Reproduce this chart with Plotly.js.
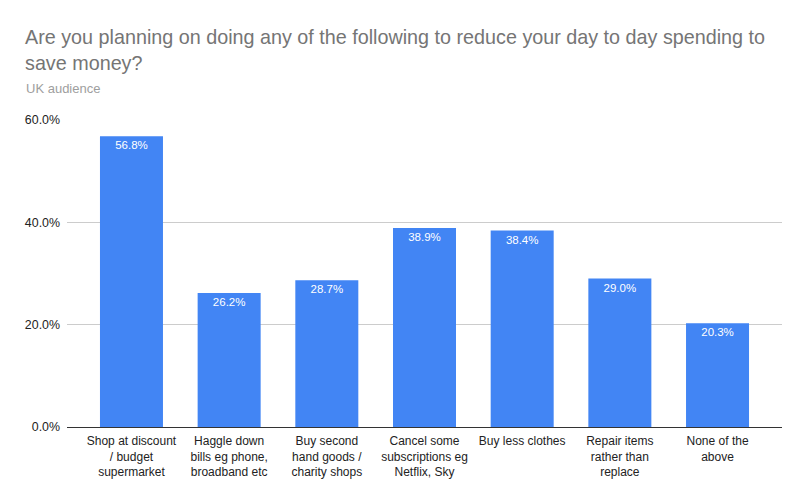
<!DOCTYPE html>
<html>
<head>
<meta charset="utf-8">
<script src="https://cdn.plot.ly/plotly-3.0.1.min.js"></script>
<style>html,body{margin:0;padding:0;background:#fff}#chart{width:809px;height:501px}</style>
</head>
<body>
<div id="chart"></div>
<script>
const categories = [
  "Shop at discount<br>/ budget<br>supermarket",
  "Haggle down<br>bills eg phone,<br>broadband etc",
  "Buy second<br>hand goods /<br>charity shops",
  "Cancel some<br>subscriptions eg<br>Netflix, Sky",
  "Buy less clothes",
  "Repair items<br>rather than<br>replace",
  "None of the<br>above"
];
const values = [0.568, 0.262, 0.287, 0.389, 0.384, 0.290, 0.203];
const yTickVals = [0, 0.2, 0.4, 0.6];

const font = "Arial, 'Liberation Sans', sans-serif";
const xIdx = categories.map((_, i) => i);

Plotly.newPlot('chart', [{
  type: 'bar',
  x: xIdx,
  y: values,
  width: 0.645,
  marker: {color: '#4285F4'},
  texttemplate: '%{y:.1%}',
  textposition: 'inside',
  insidetextanchor: 'end',
  textangle: 0,
  insidetextfont: {color: '#ffffff', size: 11.5, family: font},
  hoverinfo: 'none'
}], {
  width: 809, height: 501,
  margin: {l: 67, r: 27, t: 120, b: 74},
  paper_bgcolor: '#fff', plot_bgcolor: '#fff',
  font: {family: font, color: '#222'},
  showlegend: false,
  title: {
    text: "Are you planning on doing any of the following to reduce your day to day spending to<br>save money?",
    font: {family: font, size: 19.75, color: '#757575'},
    x: 25/809, xanchor: 'left', xref: 'container',
    y: 1 - 44/501, yanchor: 'top', yref: 'container'
  },
  annotations: [{
    text: 'UK audience', xref: 'paper', yref: 'paper',
    x: (24-67)/715, xanchor: 'left',
    y: 1 + (120-89)/307, yanchor: 'middle',
    showarrow: false,
    font: {family: font, size: 13, color: '#9e9e9e'}
  }],
  xaxis: {
    tickvals: xIdx, ticktext: categories,
    range: [-0.66, 6.66],
    showgrid: false, zeroline: false, showline: false,
    ticks: '', ticklabelstandoff: 5,
    tickfont: {size: 12, color: '#222', family: font},
    fixedrange: true
  },
  yaxis: {
    range: [0, 0.6],
    tickvals: yTickVals, tickformat: '.1%',
    showgrid: true, gridcolor: '#cccccc', gridwidth: 1,
    zeroline: true, zerolinecolor: '#333333', zerolinewidth: 1,
    showline: false, ticks: '', ticklabelstandoff: 6,
    tickfont: {size: 12.4, color: '#222', family: font},
    fixedrange: true
  },
  bargap: 0.35
}, {displayModeBar: false, staticPlot: true});
</script>
</body>
</html>
